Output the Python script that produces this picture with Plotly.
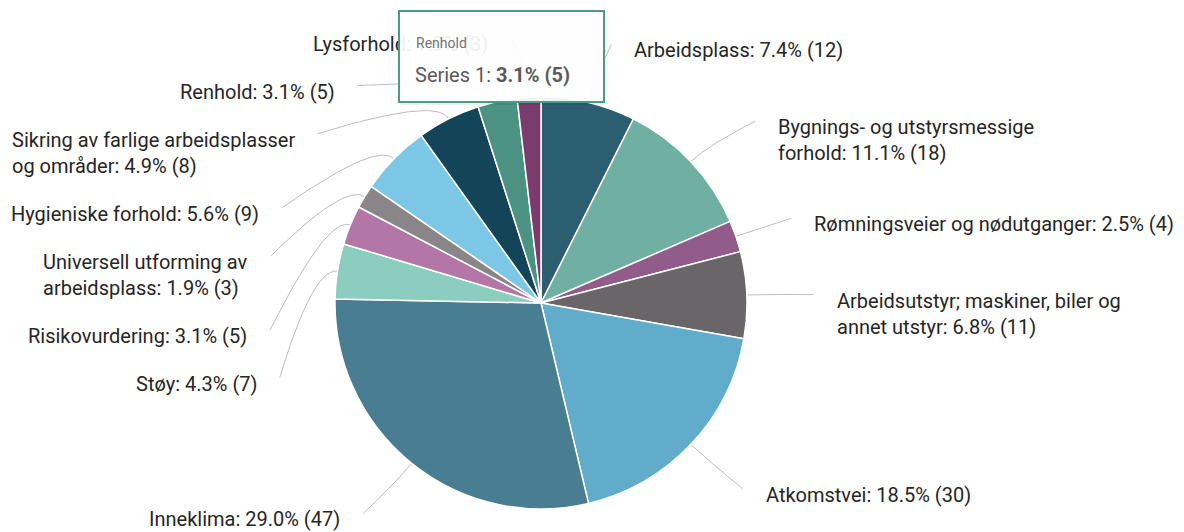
import math
import plotly.graph_objects as go

# ---------------- data ----------------
categories = [
    "Arbeidsplass",
    "Bygnings- og utstyrsmessige forhold",
    "Rømningsveier og nødutganger",
    "Arbeidsutstyr; maskiner, biler og annet utstyr",
    "Atkomstvei",
    "Inneklima",
    "Støy",
    "Risikovurdering",
    "Universell utforming av arbeidsplass",
    "Hygieniske forhold",
    "Sikring av farlige arbeidsplasser og områder",
    "Renhold",
    "Lysforhold",
]
counts = [12, 18, 4, 11, 30, 47, 7, 5, 3, 9, 8, 5, 3]
colors = [
    "#2B5E70", "#6FB0A2", "#915B8A", "#6A6568", "#62ACCB", "#497D91",
    "#8BCDBF", "#B277A6", "#8A8588", "#7CC7E6", "#144457", "#4B9282", "#7B3B6E",
]
series_name = "Series 1"
hovered = "Renhold"

# ---------------- layout constants ----------------
W, H = 1184, 532
CX, CY, R = 541, 303, 206
FS = 20
LH = 26
TEXT_COLOR = "#262626"
LINE_COLOR = "#bdbdbd"

total = sum(counts)


def label_text(i):
    pct = counts[i] / total * 100
    return f"{categories[i]}: {pct:.1f}% ({counts[i]})"


EM = {
    " ": .25, ":": .21, ";": .21, ",": .2, ".": .26, "-": .27, "%": .73,
    "(": .34, ")": .35, "i": .24, "l": .24, "j": .24, "f": .34, "r": .34,
    "t": .33, "m": .86, "w": .73, "y": .47, "v": .48, "k": .5, "c": .52,
    "s": .51, "ø": .55, "å": .54,
}


def text_w(s, fs=FS):
    w = 0
    for ch in s:
        if ch in EM:
            w += EM[ch]
        elif ch.isdigit():
            w += .56
        elif ch.isupper():
            w += .63
        else:
            w += .54
    return w * fs


def greedy(s, maxw):
    words = s.split(" ")
    lines, cur = [], ""
    for wd in words:
        cand = wd if not cur else cur + " " + wd
        if cur and text_w(cand) > maxw:
            lines.append(cur)
            cur = wd
        else:
            cur = cand
    if cur:
        lines.append(cur)
    return lines


# slice mid angles (clockwise from 12 o'clock)
mids = []
cum = 0
for c in counts:
    mids.append((cum + c / 2) / total * 2 * math.pi)
    cum += c

right_idx = [i for i, t in enumerate(mids) if t < math.pi]
left_idx = [i for i, t in enumerate(mids) if t >= math.pi][::-1]


def layout_side(idxs, side):
    out = {}
    prev_y, prev_lines = None, 1
    RE = 1.43 * R
    for i in idxs:
        th = mids[i]
        y = CY + 8 - 1.30 * R * math.cos(th)
        if prev_y is not None:
            y = max(y, prev_y + 48 + LH * (prev_lines - 1))
        dy = y - CY
        if abs(dy) > 0.83 * RE:
            off = 38 + 236 * abs(math.sin(th))
        else:
            off = math.sqrt(RE * RE - dy * dy)
        x = CX + side * off
        s = label_text(i)
        w = text_w(s)
        if side > 0:
            avail = W - x
            if w <= avail + 15:
                lines = [s]
                x = min(x, W - w - 16)
            else:
                lines = greedy(s, min(avail - 3, 300))
        else:
            avail = x - 3
            lines = [s] if w <= avail else greedy(s, min(avail, 300))
        out[i] = (x, y, lines)
        prev_y, prev_lines = y, len(lines)
    return out


placed = {}
placed.update(layout_side(right_idx, 1))
placed.update(layout_side(left_idx, -1))

fig = go.Figure()

# leader lines
for i in range(len(counts)):
    th = mids[i]
    x, y, lines = placed[i]
    side = 1 if th < math.pi else -1
    p0 = (CX + R * math.sin(th), CY - R * math.cos(th))
    p1 = (CX + 1.12 * R * math.sin(th), CY - 1.12 * R * math.cos(th))
    p2 = (x - side * 22, y - 6)
    xs, ys = [], []
    for k in range(31):
        t = k / 30
        xs.append((1 - t) ** 2 * p0[0] + 2 * (1 - t) * t * p1[0] + t * t * p2[0])
        ys.append((1 - t) ** 2 * p0[1] + 2 * (1 - t) * t * p1[1] + t * t * p2[1])
    fig.add_trace(go.Scatter(x=xs, y=ys, mode="lines",
                             line=dict(color=LINE_COLOR, width=1),
                             hoverinfo="skip", showlegend=False))

fig.add_trace(go.Pie(
    labels=categories, values=counts, sort=False, direction="clockwise",
    rotation=0, marker=dict(colors=colors, line=dict(color="white", width=1.5)),
    textinfo="none", hoverinfo="label+percent+value", showlegend=False,
    domain=dict(x=[(CX - R) / W, (CX + R) / W], y=[1 - (CY + R) / H, 1 - (CY - R) / H]),
))

annotations = []
for i in range(len(counts)):
    x, y, lines = placed[i]
    side = 1 if mids[i] < math.pi else -1
    annotations.append(dict(
        x=x - side * 1, y=y - LH / 2 - 1, xref="x", yref="y",
        xanchor="left" if side > 0 else "right", yanchor="top",
        text="<br>".join(lines), showarrow=False, align="left",
        font=dict(family="Roboto", size=FS, color=TEXT_COLOR),
    ))

# tooltip (shadow, box, texts)
hi = categories.index(hovered)
hp = counts[hi] / total * 100
annotations.append(dict(
    x=399, y=12, xref="x", yref="y", xanchor="left", yanchor="top",
    text=" ", showarrow=False, width=205, height=93,
    bgcolor="rgba(0,0,0,0.06)", borderwidth=0, borderpad=0,
))
annotations.append(dict(
    x=398, y=10, xref="x", yref="y", xanchor="left", yanchor="top",
    text=" ", showarrow=False, width=203, height=89,
    bgcolor="rgba(255,255,255,0.93)", bordercolor="#4E9A86", borderwidth=2, borderpad=0,
))
annotations.append(dict(
    x=414, y=43, xref="x", yref="y", xanchor="left", yanchor="middle",
    text=hovered, showarrow=False,
    font=dict(family="Roboto", size=14, color="#757575"),
))
annotations.append(dict(
    x=413, y=75, xref="x", yref="y", xanchor="left", yanchor="middle",
    text=f"{series_name}: <b>{hp:.1f}% ({counts[hi]})</b>", showarrow=False,
    font=dict(family="Roboto", size=20, color="#5a5a5a"),
))

fig.update_layout(
    width=W, height=H, margin=dict(l=0, r=0, t=0, b=0),
    paper_bgcolor="white", plot_bgcolor="white",
    xaxis=dict(range=[0, W], visible=False, fixedrange=True, domain=[0, 1]),
    yaxis=dict(range=[H, 0], visible=False, fixedrange=True, domain=[0, 1]),
    annotations=annotations, showlegend=False,
)

fig.write_html(
    "out.html",
    config={"displayModeBar": False},
    post_script="document.body.style.margin='0';document.body.style.overflow='hidden';",
)
